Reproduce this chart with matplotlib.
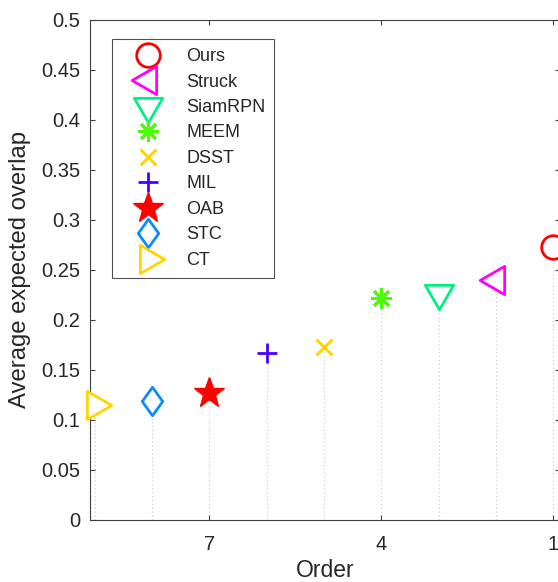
import numpy as np
import matplotlib
matplotlib.use("Agg")
import matplotlib.pyplot as plt
from matplotlib.path import Path
from matplotlib.ticker import FormatStrFormatter

plt.rcParams['font.family'] = ['Liberation Sans', 'DejaVu Sans']

# ---- data ----
methods = ['Ours', 'Struck', 'SiamRPN', 'MEEM', 'DSST', 'MIL', 'OAB', 'STC', 'CT']
orders = [1, 2, 3, 4, 5, 6, 7, 8, 9]
eao = [0.273, 0.240, 0.227, 0.222, 0.173, 0.167, 0.127, 0.119, 0.115]
xtick_vals = [7, 4, 1]
ytick_vals = [0, 0.05, 0.1, 0.15, 0.2, 0.25, 0.3, 0.35, 0.4, 0.45, 0.5]

# ---- styles ----
def closed(verts):
    return Path(list(verts) + [verts[0]], closed=True)

tri_right = closed([(-0.5, 0.866), (-0.5, -0.866), (1.0, 0.0)])
tri_left = closed([(0.5, 0.866), (0.5, -0.866), (-1.0, 0.0)])
tri_down = closed([(-0.866, 0.5), (0.866, 0.5), (0.0, -1.0)])
diamond = closed([(0, 1), (0.72, 0), (0, -1), (-0.72, 0)])

styles = {
    'Ours':    dict(marker='o', color='#FF0000', ms=17, mfc='white', mew=2),
    'Struck':  dict(marker=tri_left, color='#FF00FF', ms=23.5, mfc='white', mew=2),
    'SiamRPN': dict(marker=tri_down, color='#00F080', ms=23.5, mfc='white', mew=2),
    'MEEM':    dict(marker=(8, 2, 0), color='#4CFF00', ms=15, mfc='white', mew=2.2),
    'DSST':    dict(marker='x', color='#FFD500', ms=11, mfc='white', mew=2.2),
    'MIL':     dict(marker='+', color='#4B00FF', ms=15, mfc='white', mew=2),
    'OAB':     dict(marker='*', color='#FF0000', ms=23, mfc='#FF0000', mew=1),
    'STC':     dict(marker=diamond, color='#0A8CFF', ms=20.5, mfc='white', mew=2),
    'CT':      dict(marker=tri_right, color='#FFD500', ms=23.5, mfc='white', mew=2),
}

W, H = 558, 582
fig = plt.figure(figsize=(W / 100, H / 100), dpi=100)
ax_l, ax_r, ax_t, ax_b = 89.7, 560.0, 19.5, 519.5
ax = fig.add_axes([ax_l / W, 1 - ax_b / H, (ax_r - ax_l) / W, (ax_b - ax_t) / H])

ax.vlines(orders, 0, eao, colors='#c8c8c8', linestyles=(0, (1, 2.5)), lw=0.8, zorder=1)

handles = []
for m, o, v in zip(methods, orders, eao):
    st = styles[m]
    h, = ax.plot([o], [v], linestyle='none', marker=st['marker'], color=st['color'],
                 markersize=st['ms'], markerfacecolor=st['mfc'],
                 markeredgecolor=st['color'], markeredgewidth=st['mew'],
                 clip_on=False, zorder=3, label=m)
    handles.append(h)

ax.set_xlim(9.085, 0.883)
ax.set_ylim(0, 0.5)
ax.set_xticks(xtick_vals)
ax.set_yticks(ytick_vals)
ax.yaxis.set_major_formatter(FormatStrFormatter('%g'))

tc = '#262626'
for s in ax.spines.values():
    s.set_color('#404040')
    s.set_linewidth(0.8)
ax.tick_params(axis='both', direction='in', length=3.6, width=0.8, top=True, right=True,
               labelsize=14.5, colors='#404040', labelcolor=tc)
ax.tick_params(axis='y', pad=7)
ax.tick_params(axis='x', pad=11.5)

ax.set_xlabel('Order', fontsize=16.5, color=tc, labelpad=3)
ax.set_ylabel('Average expected overlap', fontsize=17.2, color=tc, labelpad=7)

lx = (112 - ax_l) / (ax_r - ax_l)
ly = (ax_b - 39) / (ax_b - ax_t)
leg = ax.legend(handles=handles, loc='upper left', bbox_to_anchor=(lx, ly),
                borderaxespad=0, fontsize=13, numpoints=1, fancybox=False,
                frameon=True, borderpad=0.5, handlelength=3.0, handletextpad=0.6,
                labelspacing=0.47)
leg.get_frame().set_edgecolor(tc)
leg.get_frame().set_linewidth(0.8)
for t in leg.get_texts():
    t.set_color(tc)

fig.savefig('out.png', dpi=100)
